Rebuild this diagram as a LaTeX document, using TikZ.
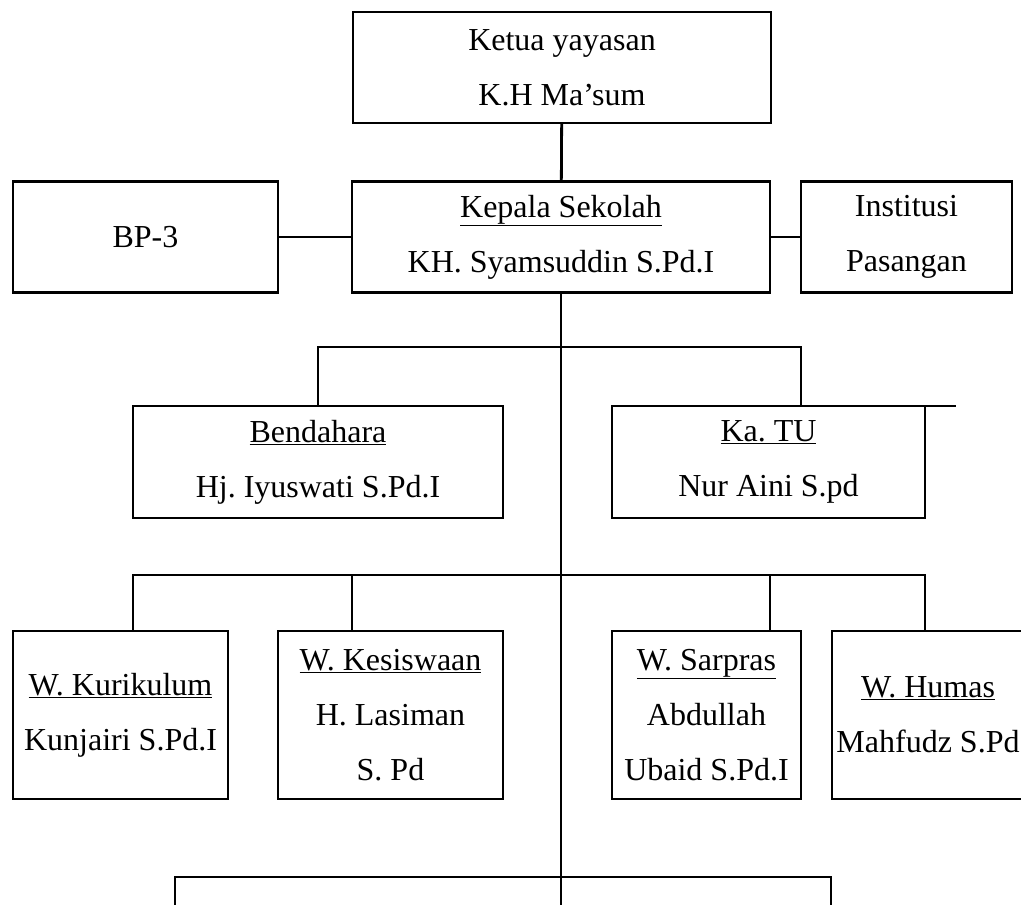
\documentclass[tikz,border=0pt]{standalone}
\usepackage{fontspec}
\setmainfont{Liberation Serif}
\frenchspacing

\begin{document}
\begin{tikzpicture}[
  x=1pt, y=-1pt,
  % Gaya umum kotak dan garis
  kotak/.style={draw, rectangle, line width=2.8pt, inner sep=0pt, outer sep=0pt,
    align=center, font=\fontsize{32}{55}\selectfont},
  garis/.style={line width=2.8pt},
  % Ukuran kotak per tingkat
  atas/.style={kotak, minimum width=418pt, minimum height=111pt},
  samping/.style={kotak, minimum height=111pt},
  tengah/.style={kotak, minimum height=112pt},
  wakil/.style={kotak, minimum height=168pt}
]
  \useasboundingbox (0,0) rectangle (1021,905);

  % Pimpinan
  \node[atas] (ketua) at (562,67.5) {Ketua yayasan \\ K.H Ma'sum};
  \node[atas] (kepala) at (561,237) {\underline{Kepala Sekolah} \\ KH. Syamsuddin S.Pd.I};
  \node[samping, minimum width=265pt] (bp) at (145.5,237) {BP-3};
  \node[samping, minimum width=211pt] (institusi) at (906.5,237) {Institusi \\ Pasangan};

  % Bendahara dan TU
  \node[tengah, minimum width=370pt] (bendahara) at (318,462) {\underline{Bendahara} \\ Hj. Iyuswati S.Pd.I};
  \node[tengah, minimum width=313pt] (katu) at (768.5,462) {\underline{Ka. TU} \\ Nur Aini S.pd};

  % Wakil kepala sekolah
  \node[wakil, minimum width=215pt] (kurikulum) at (120.5,715) {\underline{W. Kurikulum} \\ Kunjairi S.Pd.I};
  \node[wakil, minimum width=225pt] (kesiswaan) at (390.5,715) {\underline{W. Kesiswaan} \\ H. Lasiman \\ S. Pd};
  \node[wakil, minimum width=189pt] (sarpras) at (706.5,715) {\underline{W. Sarpras} \\ Abdullah \\ Ubaid S.Pd.I};
  \node[wakil, minimum width=192pt] (humas) at (928,715) {\underline{W. Humas} \\ Mahfudz S.Pd};

  % Ujung garis di bawah
  \coordinate (ujung) at (561,905);
  \coordinate (kiri) at (175,905);
  \coordinate (kanan) at (831,905);

  % Garis penghubung
  \draw[garis] (ketua) -- (kepala);
  \draw[garis] (bp) -- (kepala);
  \draw[garis] (kepala) -- (institusi);
  \draw[garis] (kepala.south) -- (ujung);
  \draw[garis] (bendahara.north) -- ++(0,-59) -| ([xshift=32.5pt]katu.north);
  \draw[garis] (katu.north) -- ([xshift=31pt]katu.north east);
  \draw[garis] ([xshift=12.5pt]kurikulum.north) -- ++(0,-56) -| ([xshift=-3pt]humas.north);
  \draw[garis] ([xshift=-38.5pt]kesiswaan.north) -- ++(0,-56);
  \draw[garis] ([xshift=63.5pt]sarpras.north) -- ++(0,-56);
  \draw[garis] (kiri) -- ++(0,-28) -| (kanan);

\end{tikzpicture}
\end{document}
